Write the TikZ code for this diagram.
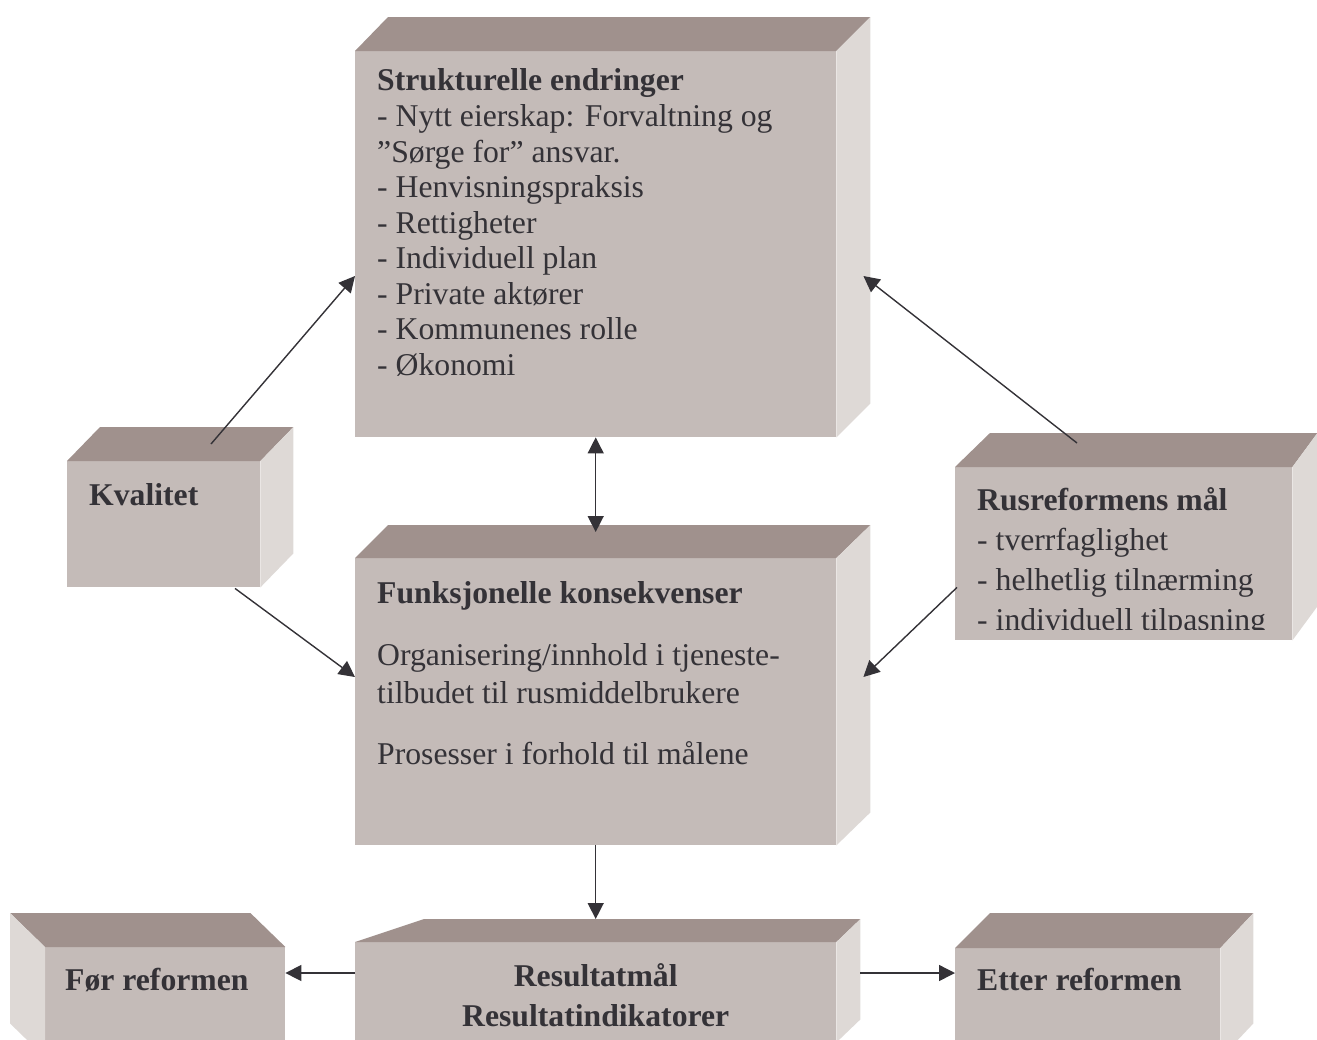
\documentclass[tikz,border=0pt]{standalone}
\usepackage{fontspec}
\setmainfont{Liberation Serif}
\usetikzlibrary{calc,arrows.meta,positioning}

\definecolor{frontfarge}{RGB}{196,187,184}
\definecolor{toppfarge}{RGB}{160,145,141}
\definecolor{sidefarge}{RGB}{222,217,214}
\definecolor{skrift}{RGB}{52,50,55}

\tikzset{
  front/.style={fill=frontfarge, inner sep=0pt, anchor=north west},
  tekst/.style={inner sep=0pt, anchor=north west, align=left, text=skrift},
  pil/.style={draw=skrift, line width=1.4pt, ->},
}

% kasse med side til hoyre: navn, dx venstre, dx hoyre, dybde
\newcommand{\kasse}[4]{%
  \fill[toppfarge] (#1.north west) -- ++(#2,-#4) -- ($(#1.north east)+(#3,-#4)$) -- (#1.north east) -- cycle;
  \fill[sidefarge] (#1.north east) -- ++(#3,-#4) -- ($(#1.south east)+(#3,-#4)$) -- (#1.south east) -- cycle;
}
% kasse med side til venstre
\newcommand{\kassev}[3]{%
  \fill[toppfarge] (#1.north west) -- ++(-#2,-#3) -- ($(#1.north east)+(-#2,-#3)$) -- (#1.north east) -- cycle;
  \fill[sidefarge] (#1.north west) -- ++(-#2,-#3) -- ($(#1.south west)+(-#2,-#3)$) -- (#1.south west) -- cycle;
}

\begin{document}
\begin{tikzpicture}[x=1pt, y=-1pt, >={Triangle[length=16pt,width=16pt]}]
\useasboundingbox (0,0) rectangle (1317,1039);
\clip (0,0) rectangle (1317,1039);

% forsider
\node [front, minimum width=481pt, minimum height=386pt] (struktur) at (355,51) {};
\node [front, minimum width=481pt, minimum height=287pt] (funksjon) at (355,558) {};
\node [front, minimum width=193pt, minimum height=126pt] (kvalitet) at (67,461) {};
\node [front, minimum width=337pt, minimum height=173pt] (maal) at (955,467) {};
\node [front, minimum width=481pt, minimum height=100pt] (resultat) at (355,942) {};
\node [front, minimum width=240pt, minimum height=110pt] (foer) at (45,947) {};
\node [front, minimum width=265pt, minimum height=110pt] (etter) at (955,948) {};

% topp og side
\kasse{struktur}{33}{34}{34}
\kasse{funksjon}{33}{34}{33}
\kasse{kvalitet}{33}{33}{34}
\kasse{maal}{35}{25}{34}
\kasse{resultat}{69}{24}{23}
\kassev{foer}{35}{34}
\kasse{etter}{35}{33}{35}

% tekster
\node [tekst, font=\fontsize{31.7}{35.5}\selectfont] (struktur-tekst) at ($(struktur.north west)+(22,14.5)$)
  {\strut\textbf{Strukturelle endringer}\\[0.5pt]
   - Nytt eierskap: Forvaltning og\\
   ”Sørge for” ansvar.\\
   - Henvisningspraksis\\
   - Rettigheter\\
   - Individuell plan\\
   - Private aktører\\
   - Kommunenes rolle\\
   - Økonomi};
\node [tekst, font=\fontsize{31.7}{38}\selectfont] (funksjon-tekst) at ($(funksjon.north west)+(22,19)$)
  {\strut\textbf{Funksjonelle konsekvenser}\\[24pt]
   Organisering/innhold i tjeneste-\\
   tilbudet til rusmiddelbrukere\\[23pt]
   Prosesser i forhold til målene};
\node [tekst, anchor=base west, font=\fontsize{31.7}{36}\selectfont] (kvalitet-tekst) at ($(kvalitet.north west)+(22,44)$)
  {\textbf{Kvalitet}};
\begin{scope}
\clip (maal.north west) rectangle ($(maal.south east)+(0,-11)$);
\node [tekst, font=\fontsize{31.7}{40}\selectfont] (maal-tekst) at ($(maal.north west)+(22,15.5)$)
  {\strut\textbf{Rusreformens mål}\\
   - tverrfaglighet\\
   - helhetlig tilnærming\\
   - individuell tilpasning};
\end{scope}
\node [tekst, anchor=north, align=center, font=\fontsize{31.7}{40.5}\selectfont] (resultat-tekst) at ($(resultat.north)+(0,15.5)$)
  {\strut\textbf{Resultatmål}\\
   \textbf{Resultatindikatorer}};
\node [tekst, anchor=base west, font=\fontsize{31.7}{36}\selectfont] (foer-tekst) at ($(foer.north west)+(20,43)$)
  {\textbf{Før reformen}};
\node [tekst, anchor=base west, font=\fontsize{31.7}{36}\selectfont] (etter-tekst) at ($(etter.north west)+(22,42)$)
  {\textbf{Etter reformen}};

% piler
\draw [pil] ($(kvalitet.north west)+(144,-17)$) -- ($(struktur.north west)+(0,225)$);
\draw [pil] ($(kvalitet.south west)+(168,1)$) -- ($(funksjon.north west)+(0,119)$);
\draw [pil] ($(maal.north west)+(122,-24)$) -- ($(struktur.north east)+(27,225)$);
\draw [pil] ($(maal.south west)+(2,-53)$) -- ($(funksjon.north east)+(27,119)$);
\draw [pil, <->] (struktur.south) -- ($(funksjon.north)+(0,-26)$);
\draw [pil] (funksjon.south) -- ($(resultat.north)+(0,-23)$);
\draw [pil] ($(resultat.north west)+(0,31)$) -- ($(foer.north east)+(0,26)$);
\draw [pil] ($(resultat.north east)+(24,31)$) -- ($(etter.north west)+(0,25)$);
\end{tikzpicture}
\end{document}
